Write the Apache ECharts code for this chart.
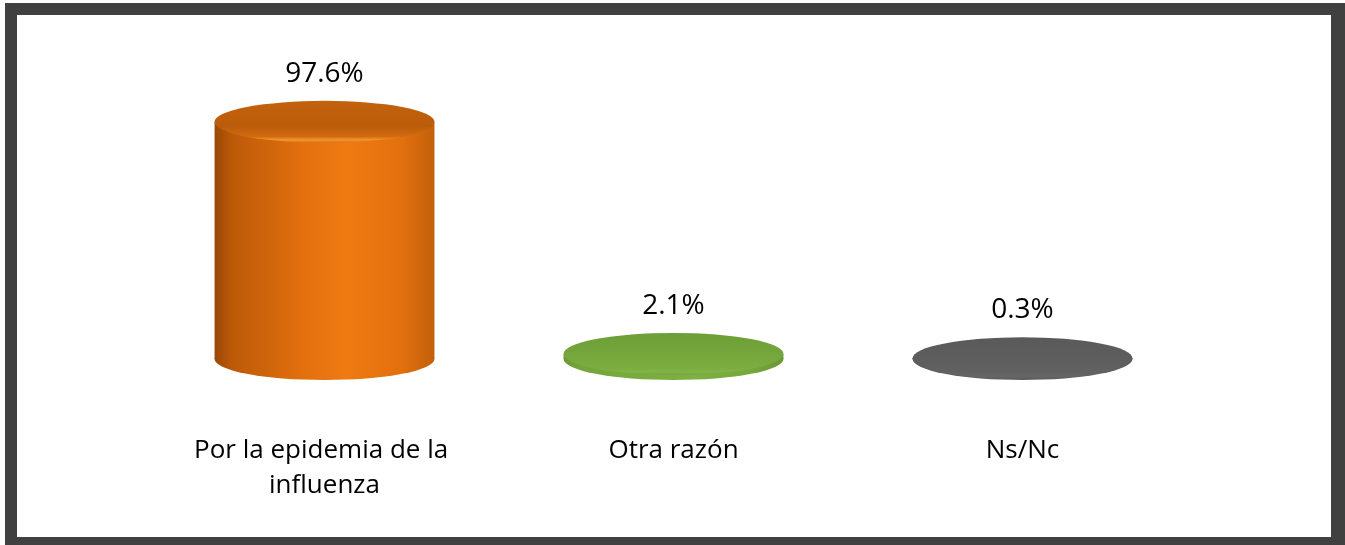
<!DOCTYPE html>
<html>
<head>
<meta charset="utf-8">
<title>Razón</title>
<script src="https://cdn.jsdelivr.net/npm/echarts/dist/echarts.min.js"></script>
<style>
    html, body { margin: 0; padding: 0; background: #fff; }
    #chart { position: absolute; left: 0; top: 0; width: 1345px; height: 545px; }
    #frame {
        position: absolute; left: 5px; top: 3px; width: 1340px; height: 542px;
        box-sizing: border-box; pointer-events: none;
        border-style: solid; border-color: #404040;
        border-width: 12px 14px 8px 12px;
    }
</style>
</head>
<body>
<div id="chart"></div>
<div id="frame"></div>
<script>
// datos
const categories = ['Por la epidemia de la influenza', 'Otra razón', 'Ns/Nc'];
const values = [97.6, 2.1, 0.3];

// colores de cada cilindro
const shades = [
    { body: ['#9A4806', '#BC5A08', '#E2700E', '#EF7A12', '#E2700E', '#C2600A'],
      top: ['#C4620C', '#BA5C0A', '#D26A10', '#F0962E', '#DE7010'] },
    { body: ['#6A9834', '#74A53B', '#7AAD40', '#7CB042', '#76A83D', '#6A9834'],
      top: ['#6E9E37', '#76A83D', '#7BAE41', '#82B449', '#74A53B'] },
    { body: ['#555555', '#5C5C5C', '#626262', '#646464', '#5E5E5E', '#555555'],
      top: ['#5A5A5A', '#5E5E5E', '#626262', '#666666', '#5C5C5C'] }
];

const FONT = '"Open Sans", sans-serif';

function renderItem (params, api) {
    let i = params.dataIndex;
    let base = api.coord([api.value(0), 0]);
    let top = api.coord([api.value(0), api.value(1)]);
    let band = api.size([1, 0])[0];
    let rx = band * 0.315;
    let ry = 21;
    let cx = base[0];
    let s = shades[i];
    let bodyGrad = new echarts.graphic.LinearGradient(0, 0, 1, 0, [
        { offset: 0, color: s.body[0] },
        { offset: 0.08, color: s.body[1] },
        { offset: 0.4, color: s.body[2] },
        { offset: 0.6, color: s.body[3] },
        { offset: 0.85, color: s.body[4] },
        { offset: 1, color: s.body[5] }
    ]);
    let topGrad = new echarts.graphic.LinearGradient(0, 0, 0, 1, [
        { offset: 0, color: s.top[0] },
        { offset: 0.6, color: s.top[1] },
        { offset: 0.85, color: s.top[2] },
        { offset: 0.93, color: s.top[3] },
        { offset: 1, color: s.top[4] }
    ]);
    return {
        type: 'group',
        children: [
            {
                type: 'circle',
                x: cx, y: base[1], scaleY: ry / rx,
                shape: { cx: 0, cy: 0, r: rx },
                style: { fill: bodyGrad }
            },
            {
                type: 'rect',
                shape: { x: cx - rx, y: top[1], width: rx * 2, height: base[1] - top[1] },
                style: { fill: bodyGrad }
            },
            {
                type: 'circle',
                x: cx, y: top[1], scaleY: ry / rx,
                shape: { cx: 0, cy: 0, r: rx },
                style: { fill: topGrad }
            },
            {
                type: 'text',
                x: cx, y: top[1] - ry - 27,
                style: {
                    text: api.value(1).toFixed(1) + '%',
                    fill: '#000',
                    font: '28px ' + FONT,
                    align: 'center',
                    verticalAlign: 'middle'
                }
            }
        ]
    };
}

let chart = echarts.init(document.getElementById('chart'));
chart.setOption({
    backgroundColor: '#fff',
    animation: false,
    grid: { left: 150, right: 148, top: 116, bottom: 186 },
    xAxis: {
        type: 'category',
        data: categories,
        axisLine: { show: false },
        axisTick: { show: false },
        axisLabel: {
            interval: 0,
            margin: 74,
            color: '#000',
            fontSize: 26,
            fontFamily: FONT,
            lineHeight: 35,
            width: 290,
            overflow: 'break'
        }
    },
    yAxis: {
        type: 'value',
        min: 0,
        max: 100,
        show: false,
        splitLine: { show: false }
    },
    series: [{
        type: 'custom',
        renderItem: renderItem,
        clip: false,
        data: values.map((v, i) => [i, v])
    }]
});
</script>
</body>
</html>
